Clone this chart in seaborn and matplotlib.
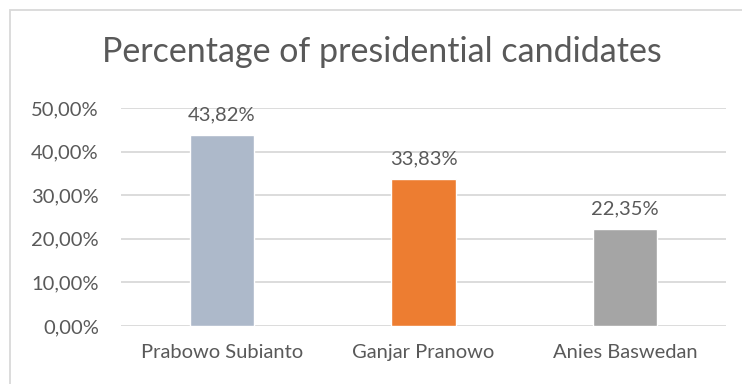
import matplotlib
matplotlib.use("Agg")
import matplotlib.pyplot as plt
import seaborn as sns
import pandas as pd
from matplotlib.patches import Rectangle
from matplotlib.ticker import FuncFormatter

candidates = ["Prabowo Subianto", "Ganjar Pranowo", "Anies Baswedan"]
shares = [0.4382, 0.3383, 0.2235]
bar_colors = ["#ADB9CA", "#ED7D31", "#A5A5A5"]
y_ticks = [0.0, 0.1, 0.2, 0.3, 0.4, 0.5]

text_color = "#595959"
grid_color = "#D9D9D9"

sns.set_theme(style="white")
plt.rcParams["font.family"] = ["Lato", "DejaVu Sans"]


def pct(v, _=None):
    # Excel-style comma decimal
    return f"{v * 100:.2f}%".replace(".", ",")


df = pd.DataFrame({"candidate": candidates, "share": shares})

fig = plt.figure(figsize=(7.42, 3.84), dpi=100)
ax = fig.add_axes([121 / 742, 58 / 384, 605 / 742, 218 / 384])

sns.barplot(data=df, x="candidate", y="share", hue="candidate",
            palette=bar_colors, saturation=1, width=0.32, legend=False,
            ax=ax, zorder=3)

# data labels
for cont in ax.containers:
    ax.bar_label(cont, labels=[pct(b.get_height()) for b in cont],
                 padding=8, fontsize=14.5, color=text_color)

ax.set_ylim(0, 0.5)
ax.set_yticks(y_ticks)
ax.yaxis.set_major_formatter(FuncFormatter(pct))
ax.grid(axis="y", color=grid_color, linewidth=1.3, zorder=0)
ax.set_axisbelow(True)
for s in ax.spines.values():
    s.set_visible(False)
ax.set_xlabel("")
ax.set_ylabel("")
ax.tick_params(axis="both", length=0, labelsize=14.5, labelcolor=text_color)
ax.tick_params(axis="y", pad=16)
ax.tick_params(axis="x", pad=13)

fig.text(382 / 742, 1 - 52 / 384, "Percentage of presidential candidates",
         ha="center", va="center", fontsize=24.5, color=text_color)

# chart area border
fig.patches.append(Rectangle((9.5 / 742, -0.05), 1.1, 1 - 9.5 / 384 + 0.05,
                             transform=fig.transFigure, fill=False,
                             edgecolor=grid_color, linewidth=1.3))

fig.savefig("out.png", dpi=100)
